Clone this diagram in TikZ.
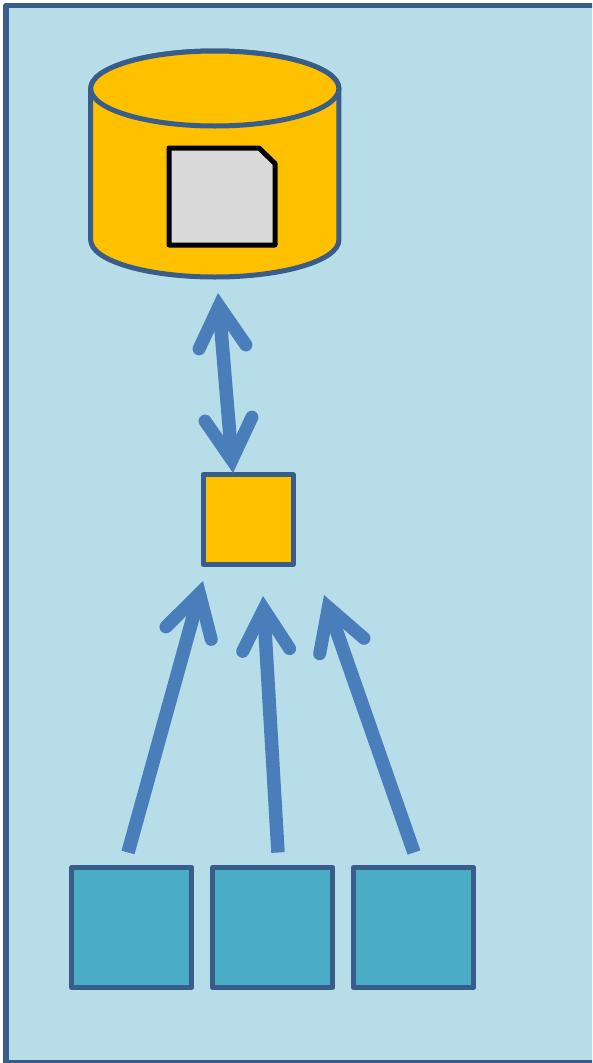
\documentclass[tikz,border=0pt]{standalone}
\usetikzlibrary{arrows.meta}
\definecolor{panelfill}{HTML}{B7DDE8}
\definecolor{edgeblue}{HTML}{385D8A}
\definecolor{amberfill}{HTML}{FFC000}
\definecolor{tealfill}{HTML}{4BACC6}
\definecolor{docfill}{HTML}{D9D9D9}
\definecolor{arrowblue}{HTML}{4A7EBB}
\tikzset{
  x=1pt,y=-1pt,
  panel/.style={draw=edgeblue,fill=panelfill,line width=5.5pt,line join=round},
  shapeedge/.style={draw=edgeblue,line width=5pt,line join=round},
  dbody/.style={shapeedge,fill=amberfill},
  amberbox/.style={shapeedge,fill=amberfill,rectangle,inner sep=0pt,minimum size=90pt},
  tealbox/.style={shapeedge,fill=tealfill,rectangle,inner sep=0pt,minimum size=120pt},
  docpage/.style={draw=black,fill=docfill,line width=5pt,line join=round},
  barb/.tip={Straight Barb[length=41pt,width=47pt,line width=13pt,line cap=round,line join=miter]},
  flow/.style={draw=arrowblue,line width=13.5pt,line cap=butt},
}
\begin{document}
\begin{tikzpicture}
\useasboundingbox (0,0) rectangle (592,1063);
\clip (0,0) rectangle (592,1063);
\fill[white] (0,0) rectangle (592,1063);
\draw[panel] (6,5.5) rectangle (610,1062.5);
% database cylinder
\path[dbody] (90.7,88.5) -- (90.7,240) arc[start angle=180,end angle=0,x radius=124.1,y radius=37] -- (338.9,88.5) arc[start angle=360,end angle=180,x radius=124.1,y radius=37.5] -- cycle;
\path[dbody] (214.8,88.5) ellipse[x radius=124.1,y radius=37.5];
\path[docpage] (169,148) -- (259,148) -- (275,163.5) -- (275,245) -- (169,245) -- cycle;
% boxes
\node[amberbox] (hub) at (248,519.7) {};
\node[tealbox] (s1) at (131.7,927.5) {};
\node[tealbox] (s2) at (272.7,927.5) {};
\node[tealbox] (s3) at (413.7,927.5) {};
% free ends
\coordinate (dbport) at (218,293);
\coordinate (hubport) at (233,473);
\coordinate (a1tip) at (203,581);
\coordinate (a1tail) at (128,852.5);
\coordinate (a2tip) at (263,596);
\coordinate (a2tail) at (278,852.5);
\coordinate (a3tip) at (324,595);
\coordinate (a3tail) at (414,852.5);
% connectors
\draw[flow,{barb}-{barb}] (dbport) -- (hubport);
\draw[flow,-{barb}] (a1tail) -- (a1tip);
\draw[flow,-{barb}] (a2tail) -- (a2tip);
\draw[flow,-{barb}] (a3tail) -- (a3tip);
\end{tikzpicture}
\end{document}
